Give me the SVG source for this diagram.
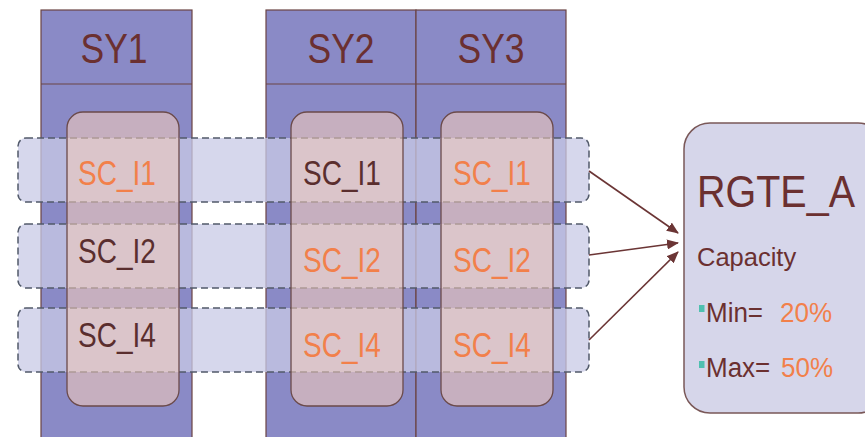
<svg xmlns="http://www.w3.org/2000/svg" width="865" height="437" viewBox="0 0 865 437">
<defs>
<style>
.col{fill:#8a8ac6;stroke:#6b4444;stroke-width:1.2}
.hdr{stroke:#6b4444;stroke-width:1.2}
.band{fill:rgb(200,202,230);fill-opacity:0.75;stroke:#525a6a;stroke-width:1.5;stroke-dasharray:7 4}
.inner{fill:rgb(248,205,185);fill-opacity:0.55;stroke:#6b4a4a;stroke-width:1.3}
text{font-family:"Liberation Sans",Arial,sans-serif}
.sy{font-size:35.5px;fill:#6b3030;text-anchor:middle}
.sc{font-size:28px;text-anchor:middle}
.dk{fill:#5a2e2e}
.or{fill:#f2804a}
.conn{stroke:#6b3535;stroke-width:1.6;fill:none}
.rg{fill:#d6d6ea;stroke:#7a5858;stroke-width:1.5}
.bul{fill:#4fc0b0}
</style>
<marker id="ah" markerWidth="12" markerHeight="10" refX="11" refY="5" orient="auto" markerUnits="userSpaceOnUse">
<path d="M0,0 L12,5 L0,10 z" fill="#6b3535"/>
</marker>
</defs>
<rect width="865" height="437" fill="#ffffff"/>
<g id="SY1">
<rect class="col" x="41" y="10" width="151" height="440"/>
<line class="hdr" x1="41" y1="84" x2="192" y2="84"/>
<text class="sy" transform="translate(114,63) scale(1,1.22)">SY1</text>
</g>
<g id="SY2">
<rect class="col" x="266" y="10" width="150" height="440"/>
<line class="hdr" x1="266" y1="84" x2="416" y2="84"/>
<text class="sy" transform="translate(341,63) scale(1,1.22)">SY2</text>
</g>
<g id="SY3">
<rect class="col" x="416" y="10" width="150" height="440"/>
<line class="hdr" x1="416" y1="84" x2="566" y2="84"/>
<text class="sy" transform="translate(491,63) scale(1,1.22)">SY3</text>
</g>
<g id="bands">
<rect id="band1" class="band" x="18" y="138" width="571" height="64" rx="8"/>
<rect id="band2" class="band" x="18" y="224" width="571" height="64" rx="8"/>
<rect id="band3" class="band" x="18" y="308" width="571" height="64" rx="8"/>
</g>
<g id="SY1-inner">
<rect class="inner" x="67" y="112" width="112" height="294" rx="16"/>
<text class="sc or" transform="translate(117,185) scale(1,1.22)">SC_I1</text>
<text class="sc dk" transform="translate(117,263) scale(1,1.22)">SC_I2</text>
<text class="sc dk" transform="translate(117,347) scale(1,1.22)">SC_I4</text>
</g>
<g id="SY2-inner">
<rect class="inner" x="291" y="112" width="112" height="294" rx="16"/>
<text class="sc dk" transform="translate(342,185) scale(1,1.22)">SC_I1</text>
<text class="sc or" transform="translate(342,272) scale(1,1.22)">SC_I2</text>
<text class="sc or" transform="translate(342,357) scale(1,1.22)">SC_I4</text>
</g>
<g id="SY3-inner">
<rect class="inner" x="441" y="112" width="112" height="294" rx="16"/>
<text class="sc or" transform="translate(492,185) scale(1,1.22)">SC_I1</text>
<text class="sc or" transform="translate(492,272) scale(1,1.22)">SC_I2</text>
<text class="sc or" transform="translate(492,357) scale(1,1.22)">SC_I4</text>
</g>
<g id="connectors">
<line class="conn" x1="589" y1="171" x2="678" y2="233" marker-end="url(#ah)"/>
<line class="conn" x1="589" y1="255" x2="678" y2="243" marker-end="url(#ah)"/>
<line class="conn" x1="589" y1="340" x2="678" y2="252" marker-end="url(#ah)"/>
</g>
<g id="RGTE_A">
<rect class="rg" x="684" y="123" width="200" height="290" rx="26"/>
<text transform="translate(697,207) scale(1,1.1)" style="font-size:39.5px;fill:#6b3030">RGTE_A</text>
<text transform="translate(697,266) scale(1,1.04)" style="font-size:25.5px;fill:#6b3030">Capacity</text>
<rect class="bul" x="699" y="305" width="5.5" height="7"/>
<text transform="translate(706,322) scale(1,1.07)" style="font-size:26px;fill:#6b3030">Min=</text>
<text transform="translate(780,322) scale(1,1.07)" style="font-size:26px;fill:#f2804a">20%</text>
<rect class="bul" x="699" y="361" width="5.5" height="7"/>
<text transform="translate(706,377) scale(1,1.07)" style="font-size:26px;fill:#6b3030">Max=</text>
<text transform="translate(781,377) scale(1,1.07)" style="font-size:26px;fill:#f2804a">50%</text>
</g>
</svg>
